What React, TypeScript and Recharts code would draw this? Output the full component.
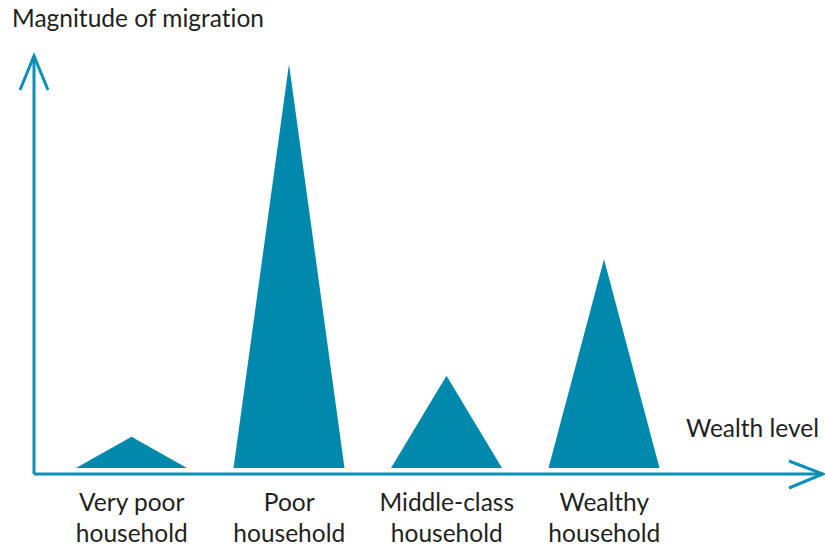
import { BarChart, Bar, XAxis, YAxis } from 'recharts';

const categories = ['Very poor household', 'Poor household', 'Middle-class household', 'Wealthy household'];
const tickLines: string[][] = [
  ['Very poor', 'household'],
  ['Poor', 'household'],
  ['Middle-class', 'household'],
  ['Wealthy', 'household'],
];
const magnitude = [7.7, 100, 22.8, 51.7];

const data = categories.map((c, i) => ({ category: c, value: magnitude[i] }));

const FILL = '#0088ad';
const LINE = '#0b90b7';
const TEXT = '#231f20';
const FONT = 'Lato, "Noto Sans", sans-serif';
const FS = 24.5;
const textStyle = { fontVariantLigatures: 'none' as const };

const Triangle = (props: any) => {
  const { x, y, width, height } = props;
  if (!height) return null;
  const pts = `${x},${y + height} ${x + width / 2},${y} ${x + width},${y + height}`;
  return <polygon points={pts} fill={FILL} />;
};

const Tick = (props: any) => {
  const { x, payload } = props;
  const lines = tickLines[payload.index] ?? [payload.value];
  // axis sits at y=474, labels hang below it
  return (
    <text x={x} y={511} textAnchor="middle" fill={TEXT} fontSize={FS} fontFamily={FONT} style={textStyle}>
      {lines.map((l, i) => (
        <tspan key={i} x={x} y={511 + i * 31}>{l}</tspan>
      ))}
    </text>
  );
};

export default function App() {
  return (
    <div style={{ width: 825, height: 548, background: '#fff' }}>
      <style>{'body{margin:0}'}</style>
      <BarChart
        width={825}
        height={548}
        data={data}
        margin={{ top: 56, right: 2, left: 33, bottom: 73 }}
      >
        <XAxis
          dataKey="category"
          height={1}
          interval={0}
          tickLine={false}
          tickSize={0}
          tickMargin={0}
          axisLine={{ stroke: LINE, strokeWidth: 3 }}
          padding={{ left: 19, right: 140 }}
          tick={<Tick />}
        />
        <YAxis
          width={1}
          domain={[-1.5, 102]}
          tick={false}
          tickLine={false}
          axisLine={{ stroke: LINE, strokeWidth: 3 }}
        />
        <Bar dataKey="value" barSize={111} shape={<Triangle />} isAnimationActive={false} />
        <polyline points="20,90 34,56 48,90" fill="none" stroke={LINE} strokeWidth={3} />
        <polyline points="789,461 823,474 789,488" fill="none" stroke={LINE} strokeWidth={3} />
        <text x={12} y={27} fill={TEXT} fontSize={FS} fontFamily={FONT} style={textStyle}>Magnitude of migration</text>
        <text x={819} y={437} textAnchor="end" fill={TEXT} fontSize={FS} fontFamily={FONT} style={textStyle}>Wealth level</text>
      </BarChart>
    </div>
  );
}
